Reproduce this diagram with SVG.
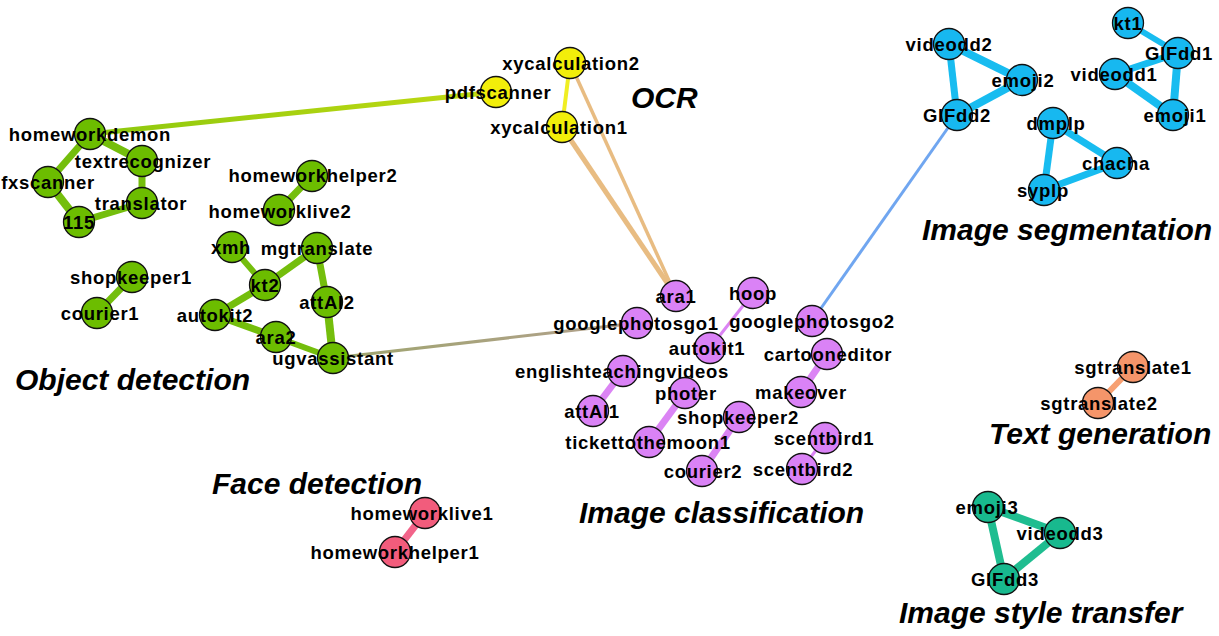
<svg xmlns="http://www.w3.org/2000/svg" width="1219" height="636" viewBox="0 0 1219 636">
<style>
.n circle{stroke:#111;stroke-width:1.3}
.n text{font-family:"Liberation Sans",Arial,sans-serif;font-weight:bold;font-size:18.5px;letter-spacing:0.7px;text-anchor:middle;fill:#000}
.g circle{fill:#6CBD00}
.y circle{fill:#F2EE0A}
.p circle{fill:#DA82F6}
.b circle{fill:#17B8F0}
.o circle{fill:#F5956A}
.t circle{fill:#18B98E}
.r circle{fill:#F25C7C}
.title{font-family:"Liberation Sans",Arial,sans-serif;font-weight:bold;font-style:italic;font-size:30px;fill:#000}
.e{fill:none;stroke-linecap:butt}
.eg{stroke:#74BE0C}
.ep{stroke:#DB84F4}
.eb{stroke:#18BCF0}
.et{stroke:#1FBD90}
</style>
<defs>
<linearGradient id="gpdf" gradientUnits="userSpaceOnUse" x1="90" y1="134" x2="496" y2="92">
<stop offset="0" stop-color="#8CC80E"/><stop offset="1" stop-color="#C2DA12"/>
</linearGradient>
<linearGradient id="gugv" gradientUnits="userSpaceOnUse" x1="333" y1="358" x2="637" y2="323">
<stop offset="0" stop-color="#9EA56E"/><stop offset="1" stop-color="#B3A08E"/>
</linearGradient>
</defs>
<rect width="1219" height="636" fill="#fff"/>
<g id="connectors">
<line class="e" x1="90" y1="134" x2="496" y2="92" stroke="url(#gpdf)" stroke-width="5"/>
<line class="e" x1="333" y1="358" x2="637" y2="323" stroke="url(#gugv)" stroke-width="3"/>
<line class="e" x1="570" y1="63" x2="562" y2="127" stroke="#F0EE22" stroke-width="4"/>
<line class="e" x1="562" y1="127" x2="676" y2="296" stroke="#E8BC82" stroke-width="5"/>
<line class="e" x1="570" y1="63" x2="676" y2="296" stroke="#E8BC82" stroke-width="3.5"/>
<line class="e" x1="957" y1="115" x2="812" y2="321" stroke="#70A6F0" stroke-width="3"/>
<line class="e eg" x1="90" y1="134" x2="142" y2="161" stroke-width="8"/>
<line class="e eg" x1="90" y1="134" x2="48" y2="182" stroke-width="7"/>
<line class="e eg" x1="48" y1="182" x2="79" y2="222" stroke-width="8"/>
<line class="e eg" x1="79" y1="222" x2="142" y2="203" stroke-width="7"/>
<line class="e eg" x1="142" y1="203" x2="142" y2="161" stroke-width="7"/>
<line class="e eg" x1="312" y1="176" x2="279" y2="210" stroke-width="7"/>
<line class="e eg" x1="232" y1="247" x2="265" y2="285" stroke-width="6"/>
<line class="e eg" x1="265" y1="285" x2="317" y2="248" stroke-width="7"/>
<line class="e eg" x1="317" y1="248" x2="327" y2="302" stroke-width="7"/>
<line class="e eg" x1="327" y1="302" x2="333" y2="358" stroke-width="8"/>
<line class="e eg" x1="265" y1="285" x2="215" y2="315" stroke-width="7"/>
<line class="e eg" x1="215" y1="315" x2="276" y2="337" stroke-width="7"/>
<line class="e eg" x1="276" y1="337" x2="333" y2="358" stroke-width="6"/>
<line class="e eg" x1="132" y1="277" x2="97" y2="313" stroke-width="7"/>
<line class="e ep" x1="753" y1="293" x2="710" y2="348" stroke-width="3"/>
<line class="e ep" x1="623" y1="371" x2="593" y2="411" stroke-width="7"/>
<line class="e ep" x1="685" y1="393" x2="649" y2="442" stroke-width="7"/>
<line class="e ep" x1="739" y1="417" x2="702" y2="471" stroke-width="7"/>
<line class="e ep" x1="827" y1="354" x2="801" y2="392" stroke-width="7"/>
<line class="e ep" x1="825" y1="438" x2="802" y2="469" stroke-width="3"/>
<line class="e eb" x1="949" y1="44" x2="1022" y2="80" stroke-width="8"/>
<line class="e eb" x1="949" y1="44" x2="957" y2="115" stroke-width="7"/>
<line class="e eb" x1="1022" y1="80" x2="957" y2="115" stroke-width="8"/>
<line class="e eb" x1="1128" y1="23" x2="1178" y2="53" stroke-width="6"/>
<line class="e eb" x1="1178" y1="53" x2="1115" y2="74" stroke-width="7"/>
<line class="e eb" x1="1178" y1="53" x2="1173" y2="115" stroke-width="8"/>
<line class="e eb" x1="1115" y1="74" x2="1173" y2="115" stroke-width="8"/>
<line class="e eb" x1="1053" y1="123" x2="1117" y2="163" stroke-width="7"/>
<line class="e eb" x1="1053" y1="123" x2="1044" y2="190" stroke-width="7"/>
<line class="e eb" x1="1117" y1="163" x2="1044" y2="190" stroke-width="7"/>
<line class="e" x1="1133" y1="367" x2="1098" y2="403" stroke="#F7A072" stroke-width="6"/>
<line class="e et" x1="988" y1="507" x2="1060" y2="533" stroke-width="8"/>
<line class="e et" x1="988" y1="507" x2="1004" y2="579" stroke-width="8"/>
<line class="e et" x1="1060" y1="533" x2="1004" y2="579" stroke-width="8"/>
<line class="e" x1="425" y1="513" x2="395" y2="552" stroke="#F2648A" stroke-width="7"/>
</g>
<g id="nodes">
<g id="n-homeworkdemon" class="n g"><circle cx="90" cy="134" r="15.5"/><text x="90" y="140.5">homeworkdemon</text></g>
<g id="n-textrecognizer" class="n g"><circle cx="142" cy="161" r="15.5"/><text x="143" y="167.5">textrecognizer</text></g>
<g id="n-fxscanner" class="n g"><circle cx="48" cy="182" r="15.5"/><text x="48" y="188.5">fxscanner</text></g>
<g id="n-translator" class="n g"><circle cx="142" cy="203" r="15.5"/><text x="141" y="209.5">translator</text></g>
<g id="n-115" class="n g"><circle cx="79" cy="222" r="15.5"/><text x="79" y="228.5">115</text></g>
<g id="n-homeworkhelper2" class="n g"><circle cx="312" cy="176" r="15.5"/><text x="313" y="182">homeworkhelper2</text></g>
<g id="n-homeworklive2" class="n g"><circle cx="279" cy="210" r="15.5"/><text x="280" y="218">homeworklive2</text></g>
<g id="n-xmh" class="n g"><circle cx="232" cy="247" r="15.5"/><text x="231" y="253.5">xmh</text></g>
<g id="n-mgtranslate" class="n g"><circle cx="317" cy="248" r="15.5"/><text x="317" y="254.5">mgtranslate</text></g>
<g id="n-kt2" class="n g"><circle cx="265" cy="285" r="15.5"/><text x="265" y="291.5">kt2</text></g>
<g id="n-attAI2" class="n g"><circle cx="327" cy="302" r="15.5"/><text x="327" y="308.5">attAI2</text></g>
<g id="n-autokit2" class="n g"><circle cx="215" cy="315" r="15.5"/><text x="215" y="321.5">autokit2</text></g>
<g id="n-ara2" class="n g"><circle cx="276" cy="337" r="15.5"/><text x="276" y="343.5">ara2</text></g>
<g id="n-ugvassistant" class="n g"><circle cx="333" cy="358" r="15.5"/><text x="333" y="364.5">ugvassistant</text></g>
<g id="n-shopkeeper1" class="n g"><circle cx="132" cy="277" r="15.5"/><text x="131" y="283.5">shopkeeper1</text></g>
<g id="n-courier1" class="n g"><circle cx="97" cy="313" r="15.5"/><text x="100" y="319.5">courier1</text></g>
<g id="n-xycalculation2" class="n y"><circle cx="570" cy="63" r="15.5"/><text x="571" y="69.5">xycalculation2</text></g>
<g id="n-pdfscanner" class="n y"><circle cx="496" cy="92" r="15.5"/><text x="498" y="98.5">pdfscanner</text></g>
<g id="n-xycalculation1" class="n y"><circle cx="562" cy="127" r="15.5"/><text x="559" y="133.5">xycalculation1</text></g>
<g id="n-ara1" class="n p"><circle cx="676" cy="296" r="15.5"/><text x="676" y="302.5">ara1</text></g>
<g id="n-googlephotosgo1" class="n p"><circle cx="637" cy="323" r="15.5"/><text x="636" y="329.5">googlephotosgo1</text></g>
<g id="n-autokit1" class="n p"><circle cx="710" cy="348" r="15.5"/><text x="707" y="354.5">autokit1</text></g>
<g id="n-englishteachingvideos" class="n p"><circle cx="623" cy="371" r="15.5"/><text x="622" y="377.5">englishteachingvideos</text></g>
<g id="n-attAI1" class="n p"><circle cx="593" cy="411" r="15.5"/><text x="592" y="417.5">attAI1</text></g>
<g id="n-photer" class="n p"><circle cx="685" cy="393" r="15.5"/><text x="686" y="399.5">photer</text></g>
<g id="n-tickettothemoon1" class="n p"><circle cx="649" cy="442" r="15.5"/><text x="648" y="448.5">tickettothemoon1</text></g>
<g id="n-shopkeeper2" class="n p"><circle cx="739" cy="417" r="15.5"/><text x="738" y="423.5">shopkeeper2</text></g>
<g id="n-courier2" class="n p"><circle cx="702" cy="471" r="15.5"/><text x="703" y="477.5">courier2</text></g>
<g id="n-hoop" class="n p"><circle cx="753" cy="293" r="15.5"/><text x="753" y="299.5">hoop</text></g>
<g id="n-googlephotosgo2" class="n p"><circle cx="812" cy="321" r="15.5"/><text x="812" y="327.5">googlephotosgo2</text></g>
<g id="n-cartooneditor" class="n p"><circle cx="827" cy="354" r="15.5"/><text x="828" y="360.5">cartooneditor</text></g>
<g id="n-makeover" class="n p"><circle cx="801" cy="392" r="15.5"/><text x="801" y="398.5">makeover</text></g>
<g id="n-scentbird1" class="n p"><circle cx="825" cy="438" r="15.5"/><text x="824" y="444.5">scentbird1</text></g>
<g id="n-scentbird2" class="n p"><circle cx="802" cy="469" r="15.5"/><text x="803" y="475.5">scentbird2</text></g>
<g id="n-videodd2" class="n b"><circle cx="949" cy="44" r="15.5"/><text x="949" y="50.5">videodd2</text></g>
<g id="n-emoji2" class="n b"><circle cx="1022" cy="80" r="15.5"/><text x="1023" y="86.5">emoji2</text></g>
<g id="n-GIFdd2" class="n b"><circle cx="957" cy="115" r="15.5"/><text x="957" y="121.5">GIFdd2</text></g>
<g id="n-kt1" class="n b"><circle cx="1128" cy="23" r="15.5"/><text x="1128" y="29.5">kt1</text></g>
<g id="n-GIFdd1" class="n b"><circle cx="1178" cy="53" r="15.5"/><text x="1179" y="59.5">GIFdd1</text></g>
<g id="n-videodd1" class="n b"><circle cx="1115" cy="74" r="15.5"/><text x="1114" y="80.5">videodd1</text></g>
<g id="n-emoji1" class="n b"><circle cx="1173" cy="115" r="15.5"/><text x="1175" y="121.5">emoji1</text></g>
<g id="n-dmplp" class="n b"><circle cx="1053" cy="123" r="15.5"/><text x="1056" y="129.5">dmplp</text></g>
<g id="n-chacha" class="n b"><circle cx="1117" cy="163" r="15.5"/><text x="1116" y="169.5">chacha</text></g>
<g id="n-syplp" class="n b"><circle cx="1044" cy="190" r="15.5"/><text x="1043" y="196.5">syplp</text></g>
<g id="n-sgtranslate1" class="n o"><circle cx="1133" cy="367" r="15.5"/><text x="1133" y="373.5">sgtranslate1</text></g>
<g id="n-sgtranslate2" class="n o"><circle cx="1098" cy="403" r="15.5"/><text x="1099" y="409.5">sgtranslate2</text></g>
<g id="n-emoji3" class="n t"><circle cx="988" cy="507" r="15.5"/><text x="987" y="513.5">emoji3</text></g>
<g id="n-videodd3" class="n t"><circle cx="1060" cy="533" r="15.5"/><text x="1060" y="539.5">videodd3</text></g>
<g id="n-GIFdd3" class="n t"><circle cx="1004" cy="579" r="15.5"/><text x="1005" y="585.5">GIFdd3</text></g>
<g id="n-homeworklive1" class="n r"><circle cx="425" cy="513" r="15.5"/><text x="422" y="519.5">homeworklive1</text></g>
<g id="n-homeworkhelper1" class="n r"><circle cx="395" cy="552" r="15.5"/><text x="395" y="558.5">homeworkhelper1</text></g>
</g>
<g id="titles">
<text class="title" x="15" y="390">Object detection</text>
<text class="title" x="631" y="108">OCR</text>
<text class="title" x="922" y="240">Image segmentation</text>
<text class="title" x="989" y="444">Text generation</text>
<text class="title" x="899" y="623">Image style transfer</text>
<text class="title" x="212" y="494">Face detection</text>
<text class="title" x="579" y="523">Image classification</text>
</g>
</svg>
